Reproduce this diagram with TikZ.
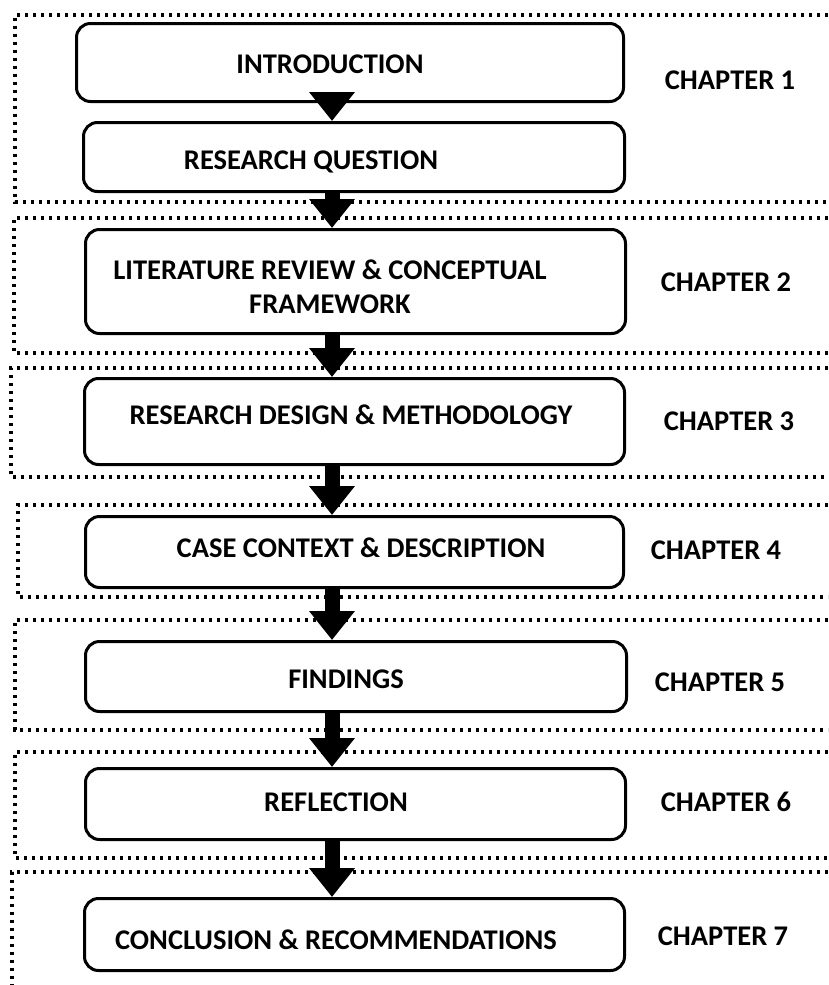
\documentclass[tikz,border=0pt]{standalone}
\usepackage{fontspec}
\setmainfont{Carlito}
\usetikzlibrary{arrows.meta}
\begin{document}
\begin{tikzpicture}[x=1pt,y=-1pt,
  stage/.style={draw, line width=3pt, rounded corners=14pt, anchor=north west, inner sep=0pt},
  txt/.style={font=\bfseries\fontsize{28.5}{34}\selectfont, align=center, inner sep=0pt},
  frame/.style={line width=3.4pt, dash pattern=on 3.4pt off 4.6pt},
  flow/.style={line width=15pt, -{Triangle[length=29pt,width=44pt]}}]
\useasboundingbox (0,0) rectangle (828,985);

% dotted chapter frames, open on the right
\draw[frame] (828,15) -- (15,15) -- (15,202) -- (828,202);
\draw[frame] (828,218) -- (14,218) -- (14,353) -- (828,353);
\draw[frame] (828,368) -- (11,368) -- (11,477) -- (828,477);
\draw[frame] (828,505) -- (18,505) -- (18,597) -- (828,597);
\draw[frame] (828,620) -- (15,620) -- (15,730) -- (828,730);
\draw[frame] (828,752) -- (15,752) -- (15,858) -- (828,858);
\draw[frame] (828,872) -- (12,872) -- (12,985);

% stage boxes
\node[stage, minimum width=547pt, minimum height=78pt] (b1) at (75,22) {};
\node[stage, minimum width=541pt, minimum height=69pt] (b2) at (82,121) {};
\node[stage, minimum width=540pt, minimum height=104pt] (b3) at (84,228) {};
\node[stage, minimum width=540pt, minimum height=86pt] (b4) at (83,377) {};
\node[stage, minimum width=538pt, minimum height=71pt] (b5) at (84,515) {};
\node[stage, minimum width=541pt, minimum height=70pt] (b6) at (84,640) {};
\node[stage, minimum width=540pt, minimum height=71pt] (b7) at (84,767) {};
\node[stage, minimum width=540pt, minimum height=72pt] (b8) at (83,897) {};

% stage titles
\node[txt] (t1) at (330,64) {INTRODUCTION};
\node[txt] (t2) at (311,162) {RESEARCH QUESTION};
\node[txt] (t3) at (330,287) {LITERATURE REVIEW \& CONCEPTUAL\\FRAMEWORK};
\node[txt] (t4) at (351,415) {RESEARCH DESIGN \& METHODOLOGY};
\node[txt] (t5) at (361,548) {CASE CONTEXT \& DESCRIPTION};
\node[txt] (t6) at (346,679) {FINDINGS};
\node[txt] (t7) at (336,802) {REFLECTION};
\node[txt] (t8) at (336,940) {CONCLUSION \& RECOMMENDATIONS};

% chapter labels
\node[txt] (c1) at (730,80) {CHAPTER 1};
\node[txt] (c2) at (726,282) {CHAPTER 2};
\node[txt] (c3) at (729,421) {CHAPTER 3};
\node[txt] (c4) at (716,550) {CHAPTER 4};
\node[txt] (c5) at (720,682) {CHAPTER 5};
\node[txt] (c6) at (726,802) {CHAPTER 6};
\node[txt] (c7) at (723,936) {CHAPTER 7};

% flow arrows
\coordinate (ax) at (332,0);
\draw[flow] (b1.south -| ax) -- (b2.north -| ax);
\draw[flow] (b2.south -| ax) -- (b3.north -| ax);
\draw[flow] (b3.south -| ax) -- (b4.north -| ax);
\draw[flow] (b4.south -| ax) -- (b5.north -| ax);
\draw[flow] (b5.south -| ax) -- (b6.north -| ax);
\draw[flow] (b6.south -| ax) -- (b7.north -| ax);
\draw[flow] (b7.south -| ax) -- (b8.north -| ax);
\end{tikzpicture}
\end{document}
